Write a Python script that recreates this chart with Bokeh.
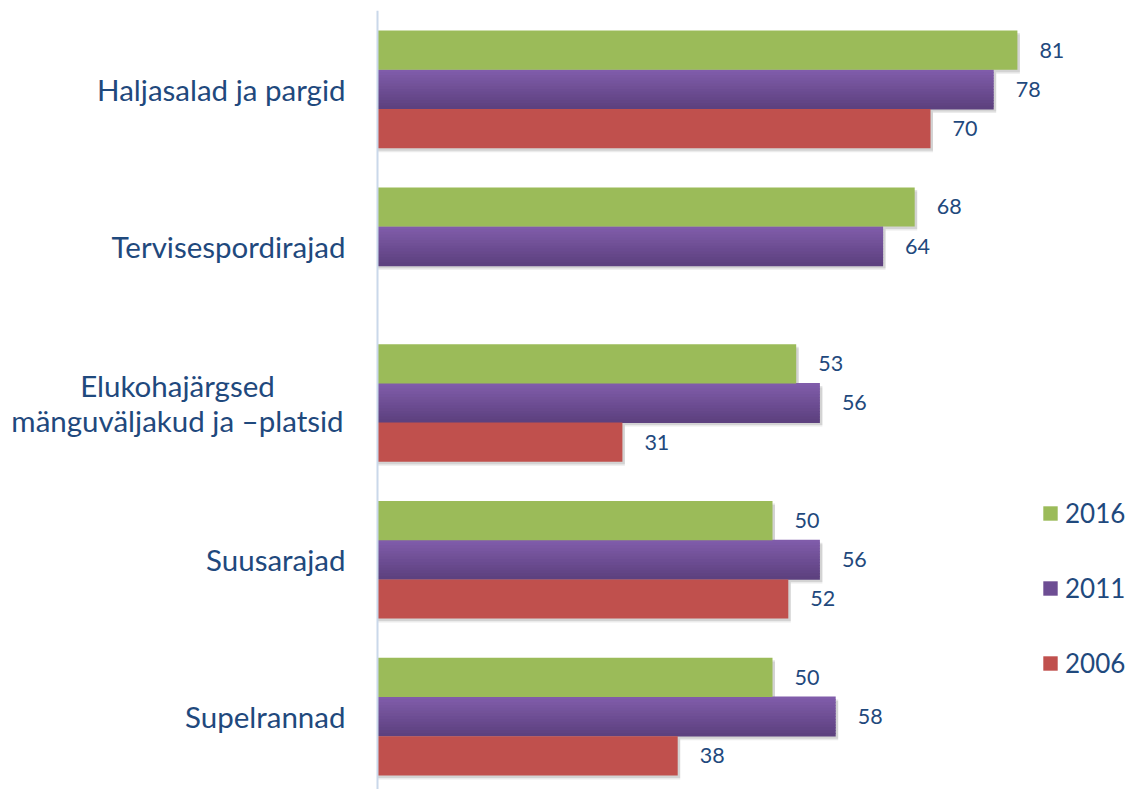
from bokeh.plotting import figure
from bokeh.models import (ColumnDataSource, Range1d, Legend, LegendItem, Span)
from bokeh.transform import dodge
from bokeh.core.properties import value
from bokeh.embed import file_html
from bokeh.resources import INLINE

categories = ["Haljasalad ja pargid", "Tervisespordirajad",
              "Elukohajärgsed\nmänguväljakud ja –platsid", "Suusarajad", "Supelrannad"]
years = ["2016", "2011", "2006"]
v2016 = [81, 68, 53, 50, 50]
v2011 = [78, 64, 56, 56, 58]
v2006 = [70, None, 31, 52, 38]

GREEN = "#9BBB59"
RED = "#C0504D"
PURPLE_TOP = (128, 92, 170)
PURPLE_BOT = (93, 65, 127)
TEXT = "#1F497D"
FONT = "Lato"

PX_PER_UNIT_X = 7.9
PX_PER_CAT = 157.0
AXIS_X = 377      # pixel position of the value axis (value 0)
FRAME_TOP = 10

W, H = 1131, 789
p = figure(width=W, height=H, output_backend="svg", toolbar_location=None,
           x_range=Range1d(-AXIS_X / PX_PER_UNIT_X, (W - AXIS_X) / PX_PER_UNIT_X),
           y_range=Range1d(len(categories) - 1 + 73 / PX_PER_CAT, -79 / PX_PER_CAT),
           min_border_left=0, min_border_right=0,
           min_border_top=FRAME_TOP, min_border_bottom=0)
p.outline_line_color = None
p.xgrid.visible = False
p.ygrid.visible = False
p.xaxis.visible = False
p.yaxis.visible = False
p.background_fill_color = None
p.border_fill_color = "white"

idx = list(range(len(categories)))

# value axis line at 0
p.add_layout(Span(location=0, dimension="height", line_color="#CAD8EA", line_width=2))


def make_src(vals):
    d = dict(idx=[], v=[], lab=[], vsh=[])
    for i, v in zip(idx, vals):
        if v is None:
            continue
        d["idx"].append(i)
        d["v"].append(v)
        d["lab"].append(str(v))
        d["vsh"].append(v + 2.5 / PX_PER_UNIT_X)
    return ColumnDataSource(d)


offsets = {"2016": -0.25, "2011": 0.0, "2006": 0.25}
srcs = {"2016": make_src(v2016), "2011": make_src(v2011), "2006": make_src(v2006)}
bh = 0.25

# soft shadows
for y in years:
    for dy, a in [(4, 0.08), (2.5, 0.10)]:
        p.hbar(y=dodge("idx", offsets[y] + dy / PX_PER_CAT, range=p.y_range), height=bh,
               left=0, right="vsh", source=srcs[y], fill_color="black", fill_alpha=a,
               line_color=None)

# purple gradient as strips
n = 14
purple_rs = []
for k in range(n):
    t = k / (n - 1)
    c = tuple(int(round(PURPLE_TOP[j] + (PURPLE_BOT[j] - PURPLE_TOP[j]) * t)) for j in range(3))
    col = "#%02x%02x%02x" % c
    off = offsets["2011"] - bh / 2 + (k + 0.5) * bh / n
    r = p.hbar(y=dodge("idx", off, range=p.y_range), height=bh / n * 1.3, left=0, right="v",
               source=srcs["2011"], fill_color=col, line_color=None)
    purple_rs.append(r)

rg = p.hbar(y=dodge("idx", offsets["2016"], range=p.y_range), height=bh, left=0, right="v",
            source=srcs["2016"], fill_color=GREEN, line_color=None)
rr = p.hbar(y=dodge("idx", offsets["2006"], range=p.y_range), height=bh, left=0, right="v",
            source=srcs["2006"], fill_color=RED, line_color=None)

for y in years:
    p.text(x="v", y=dodge("idx", offsets[y], range=p.y_range), text="lab", source=srcs[y],
           x_offset=22, text_align="left", text_baseline="middle",
           text_font=value(FONT), text_font_size="21.5px", text_color=TEXT)

# category labels (left of the value axis)
cat_src = ColumnDataSource(dict(
    idx=idx, cat=categories,
    xoff=[-200 if "\n" in c else -32 for c in categories],
    align=["center" if "\n" in c else "right" for c in categories]))
p.text(x=0, y="idx", text="cat", source=cat_src, x_offset="xoff", text_align="align",
       text_baseline="middle", text_font=value(FONT), text_font_size="29.5px",
       text_color=TEXT, text_line_height=1.0)

legend = Legend(items=[LegendItem(label="2016", renderers=[rg]),
                       LegendItem(label="2011", renderers=[purple_rs[n // 2]]),
                       LegendItem(label="2006", renderers=[rr])],
                location=(AXIS_X + 664, 110), orientation="vertical",
                glyph_width=18, glyph_height=18, label_height=30, spacing=43,
                label_standoff=6, padding=0, margin=0,
                border_line_color=None, background_fill_alpha=0,
                label_text_font=FONT, label_text_font_size="26px", label_text_color=TEXT)
p.add_layout(legend, "center")

open("out.html", "w").write(file_html(p, INLINE))
